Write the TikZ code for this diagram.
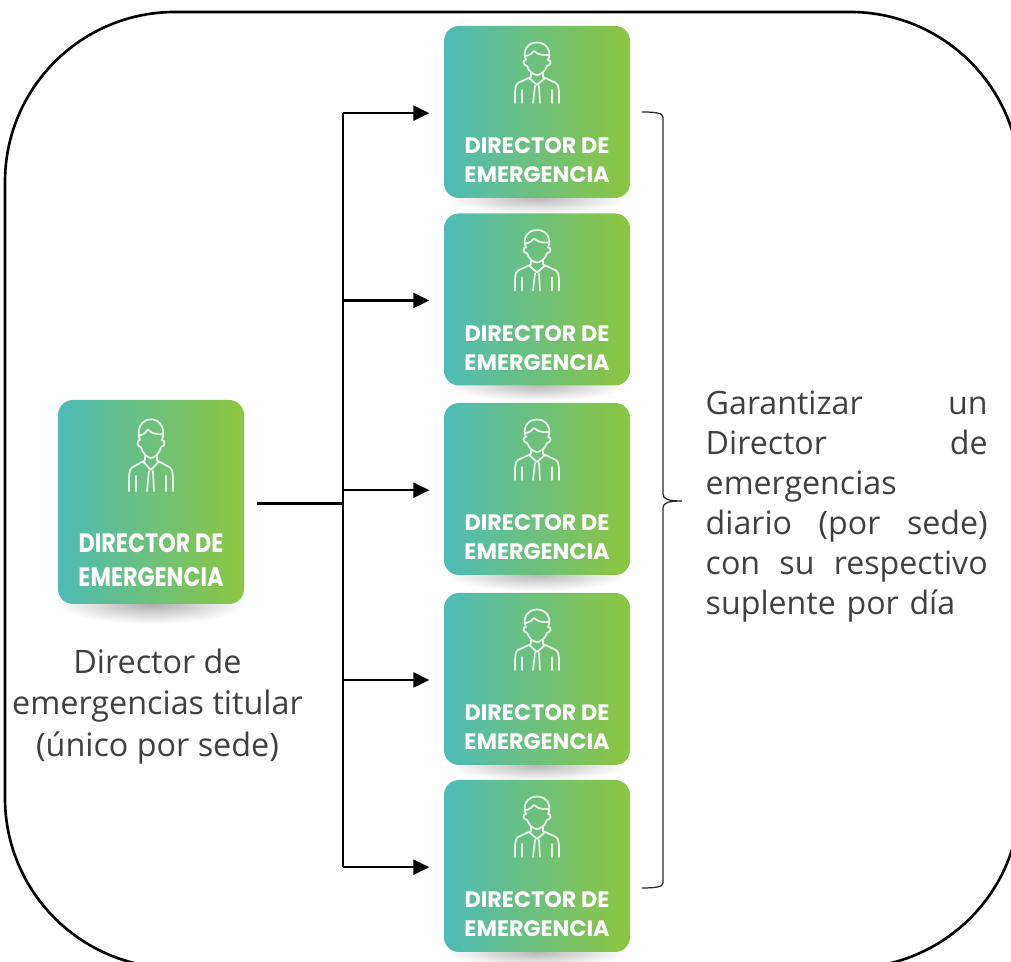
\documentclass[tikz,border=0pt]{standalone}
\usepackage{fontspec}
\usetikzlibrary{arrows.meta}
\setmainfont{Open Sans}
\newfontfamily\cardfont{Poppins}
\definecolor{cardleft}{HTML}{4FBBB8}
\definecolor{cardright}{HTML}{8CC63F}
\definecolor{bodytext}{HTML}{404040}
\tikzset{frame/.style = {draw, line width=0.75pt, rounded corners=1.7cm, minimum width=10.15cm, minimum height=9.56cm, inner sep=0pt},
           card/.style = {rounded corners=0.15cm, left color=cardleft, right color=cardright, minimum width=1.86cm, minimum height=1.72cm, inner sep=0pt},
           bigcard/.style = {card, minimum height=2.04cm},
           cardtext/.style = {text=white, font=\cardfont\bfseries\fontsize{6.35}{8.3}\selectfont, align=center, inner sep=0pt},
           bodylabel/.style = {text=bodytext, inner sep=0pt},
           branch/.style = {->, line width=0.68pt, shorten >=.14cm},
           person/.pic = {
             \draw[white, opacity=.85, line width=0.5pt, line cap=round, line join=round]
               (-.11,.52) .. controls (-.15,.60) and (-.10,.695) .. (0,.695) .. controls (.10,.695) and (.15,.60) .. (.11,.52)
               (-.11,.56) .. controls (-.07,.57) and (-.05,.585) .. (-.03,.61) .. controls (.02,.56) and (.08,.57) .. (.12,.57)
               (-.11,.52) .. controls (-.145,.52) and (-.145,.47) .. (-.10,.46)
               (.11,.52) .. controls (.145,.52) and (.145,.47) .. (.10,.46)
               (-.10,.46) .. controls (-.08,.40) and (-.03,.37) .. (0,.37) .. controls (.03,.37) and (.08,.40) .. (.10,.46)
               (-.06,.39) -- (-.06,.35) -- (-.19,.29) .. controls (-.225,.27) and (-.22,.20) .. (-.22,.09)
               (.06,.39) -- (.06,.35) -- (.19,.29) .. controls (.225,.27) and (.22,.20) .. (.22,.09)
               (-.08,.34) -- (0,.27) -- (.08,.34)
               (-.02,.26) -- (-.04,.09) (.02,.26) -- (.03,.09)
               (-.15,.22) -- (-.15,.09) (.15,.22) -- (.15,.09);
           }}

\begin{document}
\begin{tikzpicture}[>={Triangle[length=.16cm, width=.15cm]}]
    \clip (0,0) rectangle (10.11,9.62);
    \node[frame] (marco) at (5.125,4.72) {};

    % sombras
    \shade[inner color=black!32, outer color=white] (1.51,3.58) ellipse (0.95 and 0.20);
    \shade[inner color=black!28, outer color=white] (5.37,7.64) ellipse (0.90 and 0.16);
    \shade[inner color=black!28, outer color=white] (5.37,5.77) ellipse (0.90 and 0.16);
    \shade[inner color=black!28, outer color=white] (5.37,3.87) ellipse (0.90 and 0.16);
    \shade[inner color=black!28, outer color=white] (5.37,1.97) ellipse (0.90 and 0.16);
    \shade[inner color=black!28, outer color=white] (5.37,0.10) ellipse (0.90 and 0.16);

    \node[bigcard] (titular) at (1.51,4.60) {};
    \node[card] (d1) at (5.37,8.50) {};
    \node[card] (d2) at (5.37,6.625) {};
    \node[card] (d3) at (5.37,4.73) {};
    \node[card] (d4) at (5.37,2.83) {};
    \node[card] (d5) at (5.37,0.96) {};

    \pic[yscale=1.19] at (titular.center) {person};
    \pic at (d1.center) {person};
    \pic at (d2.center) {person};
    \pic at (d3.center) {person};
    \pic at (d4.center) {person};
    \pic at (d5.center) {person};

    \node[cardtext, yscale=1.19, transform shape] (ttitular) at ([yshift=-.58cm]titular.center) {DIRECTOR DE\\EMERGENCIA};
    \node[cardtext] (t1) at ([yshift=-.485cm]d1.center) {DIRECTOR DE\\EMERGENCIA};
    \node[cardtext] (t2) at ([yshift=-.485cm]d2.center) {DIRECTOR DE\\EMERGENCIA};
    \node[cardtext] (t3) at ([yshift=-.485cm]d3.center) {DIRECTOR DE\\EMERGENCIA};
    \node[cardtext] (t4) at ([yshift=-.485cm]d4.center) {DIRECTOR DE\\EMERGENCIA};
    \node[cardtext] (t5) at ([yshift=-.485cm]d5.center) {DIRECTOR DE\\EMERGENCIA};

    \node[bodylabel, align=center, font=\fontsize{9.2}{11.85}\selectfont] (ltitular) at (1.575,2.555) {Director de\\emergencias titular\\(único por sede)};
    \node[bodylabel, align=left, text width=2.82cm, anchor=north west, font=\fontsize{9.15}{11.4}\selectfont] (lgarantia) at (7.05,5.72)
      {Garantizar \hfill un\\Director \hfill de\\emergencias\\diario \hfill (por \hfill sede)\\con \hfill su \hfill respectivo\\suplente por día};

    % conectores
    \coordinate (j0) at ([yshift=-.015cm]3.43,0 |- titular);
    \coordinate (j1) at ([yshift=-.012cm]3.43,0 |- d1);
    \coordinate (j2) at ([yshift=-.01cm]3.43,0 |- d2);
    \coordinate (j3) at ([yshift=-.012cm]3.43,0 |- d3);
    \coordinate (j4) at ([yshift=-.01cm]3.43,0 |- d4);
    \coordinate (j5) at ([yshift=-.012cm]3.43,0 |- d5);
    \draw[line width=0.95pt, shorten <=.12cm] (j0 -| titular.east) -- (j0);
    \draw[line width=0.72pt] (j1) -- (j5);
    \draw[branch] (j1) -- (j1 -| d1.west);
    \draw[branch] (j2) -- (j2 -| d2.west);
    \draw[branch] (j3) -- (j3 -| d3.west);
    \draw[branch] (j4) -- (j4 -| d4.west);
    \draw[branch] (j5) -- (j5 -| d5.west);

    % llave
    \coordinate (b1) at (6.42,8.50);
    \coordinate (b2) at (6.42,0.74);
    \coordinate (b3) at (6.82,4.61);
    \draw[black!85, line width=0.35pt] (b1) .. controls (6.55,8.50) and (6.63,8.49) .. (6.63,8.45) -- (6.63,4.68)
      .. controls (6.63,4.63) and (6.68,4.61) .. (b3) .. controls (6.68,4.61) and (6.63,4.59) .. (6.63,4.54) -- (6.63,0.79)
      .. controls (6.63,0.75) and (6.55,0.74) .. (b2);
\end{tikzpicture}
\end{document}
